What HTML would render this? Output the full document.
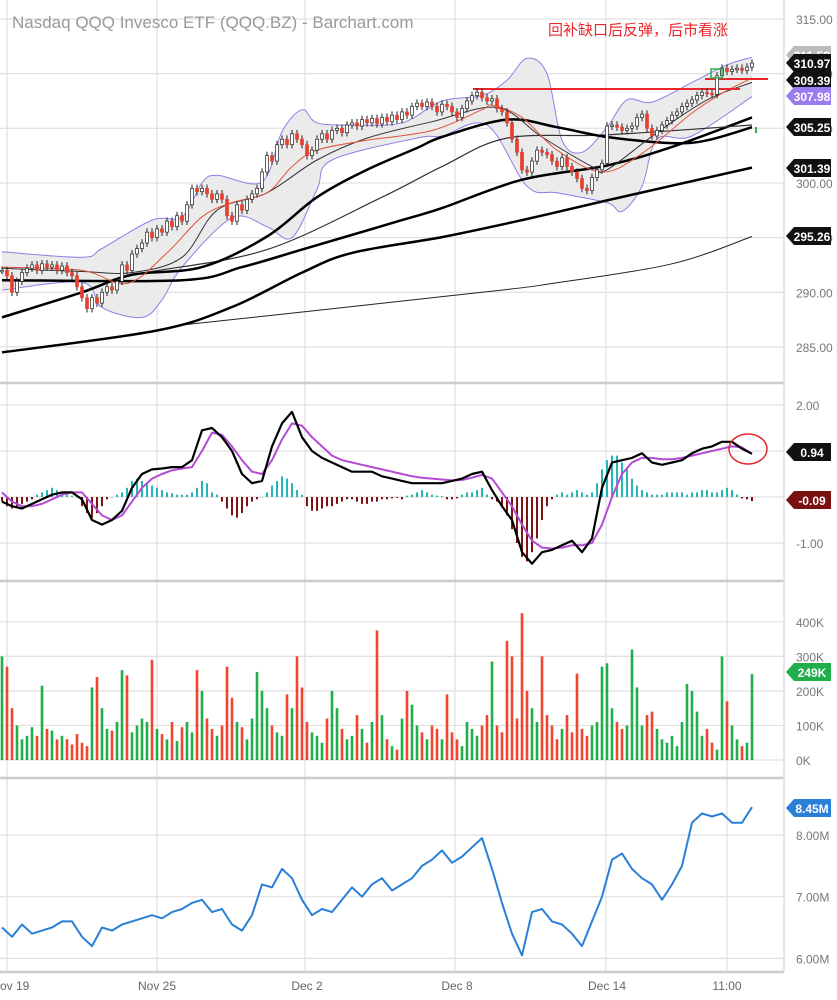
<!DOCTYPE html>
<html><head><meta charset="utf-8">
<style>
html,body{margin:0;padding:0;background:#fff;}
svg{display:block;font-family:"Liberation Sans","Noto Sans CJK SC",sans-serif;}
</style></head>
<body>
<svg id="chart" width="837" height="1000" viewBox="0 0 837 1000" xmlns="http://www.w3.org/2000/svg"></svg>
<script>
// ---------- DATA ----------
const closes = [292,291.5,290,291,291.8,292.2,292.5,292,292.6,292.3,
292.5,292,292.4,291.8,291.5,290.5,289.5,288.5,289.5,289,
290,290.5,290.2,291,292.5,292,293.5,294,294.5,295.5,
295,295.8,295.5,296.5,296,297,296.5,298,299.5,299.2,
299.5,299,298.5,299,298.5,297,296.5,298,297.5,298.5,
299,299.5,301,302.5,302,303.5,304,303.5,304.5,304,
303.5,302.5,303,304,304.5,304,304.8,305,304.6,305.3,
305.5,305.2,305.8,305.5,305.9,305.4,306,305.6,306.2,305.8,
306.5,306.2,307,307.3,307,307.4,307,306.5,307.2,307,
306.5,306,306.8,307.5,308,308.3,307.8,307.5,307.7,306.8,
306.5,305.5,304,302.8,301.2,301,302,303,302.8,302.6,
302,301.5,302.3,301.5,301,300.4,299.5,299.3,300.5,301.2,
301.8,305.2,305.3,305.1,304.8,305,305.2,306,306.3,305,
304.3,304.8,305.3,305.7,306.2,306.5,307,307.3,307.6,308,
308.3,308.2,308.1,309.8,310.5,310.2,310.4,310.5,310.3,310.6,
310.97];
const volumes = [300,270,150,100,60,70,95,70,215,90,
85,60,70,60,45,75,50,40,210,240,
150,90,85,110,260,245,80,100,120,110,
290,90,75,60,110,55,95,110,80,260,
200,120,90,70,100,270,180,110,95,60,
120,255,200,150,100,80,70,190,150,300,
210,110,80,70,50,120,200,150,90,60,
70,130,90,50,110,375,130,60,40,30,
120,200,160,100,80,60,100,90,60,190,
80,60,40,110,90,70,100,130,285,100,
80,345,300,120,425,200,150,110,300,130,
100,60,90,130,80,250,90,70,100,110,
270,280,150,110,90,100,320,210,100,130,
140,90,60,50,70,40,110,220,200,140,
70,90,50,30,300,170,100,60,40,50,
249];
const histValues = [-0.1,-0.2,-0.25,-0.2,-0.15,-0.1,-0.05,
0.05,0.1,0.15,0.2,0.15,0.1,0.05,0.03,0.0,
-0.2,-0.35,-0.45,-0.35,-0.2,-0.05,0.0,
0.05,0.1,0.2,0.35,0.4,0.35,0.3,0.25,0.2,
0.15,0.1,0.08,0.05,0.05,0.05,0.1,
0.2,0.35,0.3,0.1,0.05,
-0.1,-0.25,-0.4,-0.45,-0.35,-0.2,-0.1,-0.05,0.0,
0.1,0.25,0.35,0.45,0.4,0.3,0.15,0.05,
-0.2,-0.3,-0.3,-0.25,-0.2,-0.2,-0.15,-0.1,-0.05,-0.05,-0.1,-0.15,-0.15,-0.1,-0.1,-0.05,-0.05,-0.03,-0.02,-0.05,
0.03,0.05,0.1,0.15,0.1,0.05,0.03,0.02,
-0.05,-0.05,-0.03,0.05,0.1,0.1,0.15,0.2,0.05,-0.05,-0.1,
-0.2,-0.4,-0.7,-1.0,-1.3,-1.4,-1.2,-0.9,-0.5,-0.2,-0.05,
0.05,0.1,0.05,0.1,0.15,0.1,0.05,0.1,
0.3,0.6,0.8,0.9,0.9,0.75,0.6,0.4,0.25,0.15,0.1,0.05,
0.05,0.05,0.1,0.1,0.1,0.1,0.05,0.1,0.1,0.15,
0.15,0.1,0.1,0.15,0.2,0.15,0.05,-0.03,-0.05,-0.09];
const macdValues = [-0.1,-0.2,-0.25,-0.15,-0.05,0.05,0.1,0.1,-0.05,-0.5,
-0.6,-0.5,-0.3,0.2,0.5,0.6,0.62,0.65,0.65,0.8,
1.45,1.5,1.3,1.0,0.5,0.3,0.35,1.1,1.6,1.85,
1.3,1.0,0.85,0.75,0.65,0.55,0.55,0.55,0.45,0.4,
0.35,0.3,0.3,0.3,0.3,0.35,0.4,0.5,0.55,0.15,
-0.2,-0.5,-1.2,-1.45,-1.2,-1.15,-1.05,-0.95,-1.2,-0.9,
0.2,0.75,0.8,0.85,0.95,0.75,0.7,0.75,0.8,0.95,
1.05,1.1,1.2,1.2,1.05,0.94];
const signalValues = [0.1,-0.1,-0.2,-0.2,-0.15,-0.05,0.05,0.1,0.1,-0.15,
-0.4,-0.5,-0.4,-0.1,0.2,0.4,0.5,0.58,0.62,0.65,
1.0,1.4,1.35,1.1,0.8,0.55,0.5,0.8,1.25,1.6,
1.55,1.3,1.1,0.9,0.8,0.75,0.7,0.65,0.6,0.55,
0.5,0.45,0.42,0.4,0.38,0.36,0.37,0.42,0.48,0.4,
0.1,-0.2,-0.6,-0.95,-1.1,-1.12,-1.1,-1.05,-1.05,-1.0,
-0.6,0.0,0.5,0.75,0.85,0.85,0.82,0.82,0.85,0.9,
0.95,1.0,1.05,1.1,1.08,0.94];
const obvValues = [6.5,6.35,6.55,6.4,6.45,6.5,6.6,6.6,6.35,6.2,
6.5,6.45,6.55,6.6,6.65,6.7,6.65,6.75,6.8,6.9,
6.95,6.75,6.8,6.55,6.45,6.7,7.2,7.15,7.45,7.3,
6.95,6.7,6.8,6.75,6.95,7.15,7.0,7.2,7.3,7.1,
7.2,7.3,7.5,7.6,7.75,7.55,7.65,7.8,7.95,7.45,
6.9,6.4,6.05,6.75,6.8,6.6,6.55,6.4,6.2,6.6,
7.0,7.6,7.7,7.45,7.3,7.2,6.95,7.2,7.5,8.2,
8.35,8.3,8.35,8.2,8.2,8.45];
const bbUpper = [[0,293.7],[16,293.2],[20,294.0],[30,296.6],[36,296.9],[40,300],[43,300.7],[52,300.1],[56,304.7],[60,306.7],[63,305.5],[70,305.3],[80,305.5],[88,307.5],[96,308],[101,309.4],[105,311.4],[109,310],[112,303.9],[116,302.8],[121,305.1],[125,307.6],[130,307.4],[138,309.2],[145,310.8],[150,311.5]];
const bbLower = [[0,290.2],[16,290.9],[20,288.6],[28,287.7],[32,289.3],[36,292.3],[46,296.8],[53,296.0],[58,295.0],[63,299.4],[66,302.1],[83,304.1],[88,304.3],[97,305.3],[105,299.7],[111,299.1],[121,298.2],[124,297.4],[128,299.7],[131,304.0],[138,304.3],[150,307.9]];
const sma20 = [[0,292.2],[16,291.9],[26,291.8],[36,293.2],[43,297.5],[53,299.1],[63,302.1],[73,304.1],[86,305.6],[99,306.9],[108,304.2],[118,301.5],[121,301.2],[131,304.6],[141,307.6],[150,309.2]];
const ema9 = [[0,292.3],[16,292.0],[25,290.8],[33,293.6],[40,296.9],[46,298.2],[53,299.1],[58,301.5],[63,303.0],[73,303.9],[86,304.8],[96,306.7],[98,307.1],[104,306.0],[111,303.0],[120,301.0],[128,302.7],[138,306.4],[144,308.2],[150,309.6]];
const ma50 = [[0,287.7],[16,290.0],[26,291.6],[40,292.3],[53,295.1],[63,298.7],[73,301.2],[83,303.2],[88,304.2],[101,305.8],[111,305.1],[121,304.2],[134,303.65],[141,303.9],[150,305.1]];
const ma100 = [[0,291.1],[36,291.1],[48,292.3],[60,293.9],[80,296.6],[88,297.7],[104,300.3],[121,301.6],[134,303.3],[150,306.0]];
const ma100b = [[24,291.4],[30,291.9],[53,293.9],[76,298.7],[88,301.5],[101,304.1],[121,304.4],[150,305.3]];
const ma200 = [[0,284.5],[31,286.5],[46,288.65],[60,291.8],[70,293.6],[88,295.05],[104,296.6],[121,298.4],[150,301.4]];
const ma200b = [[36,287.0],[96,290.0],[110,290.8],[134,292.6],[150,295.1]];
const priceTicks = [315,310,305,300,295,290,285];
const macdTicks = [2,1,0,-1];
const volTicks = [400,300,200,100,0];
const obvTicks = [8,7,6];
const dateLabels = ["ov 19","Nov 25","Dec 2","Dec 8","Dec 14","11:00"];
const dateBars = [1,31,61,91,121,145];

// ---------- SCALES ----------
const NS = "http://www.w3.org/2000/svg";
const svg = document.getElementById('chart');
const xOf = i => 2 + i*5;
const yP = p => 19 + (315 - p)*10.93;
const yM = v => 497 - v*46;
const yV = v => 760 - v*0.3455;
const yO = v => 835 - (v-8)*61.7;

function el(tag, attrs, parent){ const e=document.createElementNS(NS,tag); for(const k in attrs) e.setAttribute(k,attrs[k]); (parent||svg).appendChild(e); return e; }
function txt(s, attrs){ const t=el('text',attrs); t.textContent=s; return t; }
function smoothPath(P){
  let d='M'+P[0][0].toFixed(1)+','+P[0][1].toFixed(1);
  for(let i=0;i<P.length-1;i++){ const p0=P[i-1]||P[i], p1=P[i], p2=P[i+1], p3=P[i+2]||p2;
    const c1=[p1[0]+(p2[0]-p0[0])/6, p1[1]+(p2[1]-p0[1])/6], c2=[p2[0]-(p3[0]-p1[0])/6, p2[1]-(p3[1]-p1[1])/6];
    d+=' C'+c1[0].toFixed(1)+','+c1[1].toFixed(1)+' '+c2[0].toFixed(1)+','+c2[1].toFixed(1)+' '+p2[0].toFixed(1)+','+p2[1].toFixed(1); }
  return d; }

const vgrid = [7,157,305,455,606,727];
vgrid.forEach(x=>{ const l=el('line',{x1:x,y1:0,x2:x,y2:972,stroke:'#e0e0e0','stroke-width':1.2});

 });
priceTicks.forEach(p=>{ const l=el('line',{x1:0,y1:yP(p),x2:784,y2:yP(p),stroke:'#e0e0e0','stroke-width':1.2});
 
const t=txt(p.toFixed(2),{x:796,y:yP(p)+5,fill:'#777','font-size':12});
  });
macdTicks.forEach(v=>{ const l=el('line',{x1:0,y1:yM(v),x2:784,y2:yM(v),stroke:'#e0e0e0','stroke-width':1.2});
 
if(v!==1 && v!==0){ const t=txt(v.toFixed(2),{x:796,y:yM(v)+5,fill:'#777','font-size':12});
  }});
volTicks.forEach(v=>{ const l=el('line',{x1:0,y1:yV(v),x2:784,y2:yV(v),stroke:'#e0e0e0','stroke-width':1.2});
 
const t=txt(v+'K',{x:796,y:yV(v)+5,fill:'#777','font-size':12});
  });
obvTicks.forEach(v=>{ const l=el('line',{x1:0,y1:yO(v),x2:784,y2:yO(v),stroke:'#e0e0e0','stroke-width':1.2});
 
const t=txt(v.toFixed(2)+'M',{x:796,y:yO(v)+5,fill:'#777','font-size':12});
  });
[383,581,778,972].forEach(y=>{ const l=el('line',{x1:0,y1:y,x2:784,y2:y,stroke:'#ccc','stroke-width':2.5});
  });
const rb=el('line',{x1:784,y1:0,x2:784,y2:972,stroke:'#ddd','stroke-width':1.5});
 

dateLabels.forEach((s,i)=>{ const x=xOf(dateBars[i]); const t=txt(s,{x:i===0?0:x,y:990,fill:'#666','font-size':12,'text-anchor':i===0?'start':'middle'});
  });

function ptsArr(arr){ return arr.map(d=>[xOf(d[0]),yP(d[1])]); }
const upP=ptsArr(bbUpper), loP=ptsArr(bbLower).reverse();
const bandD=smoothPath(upP)+' L'+smoothPath(loP).slice(1)+' Z';
const band=el('path',{d:bandD,fill:'#ebebeb',stroke:'none'});
 
function overlay(arr,name,stroke,w){ const p=el('path',{d:smoothPath(ptsArr(arr)),fill:'none',stroke:stroke,'stroke-width':w,'stroke-linejoin':'round'});
  }
overlay(bbUpper,'bollinger-upper','#8d7fe6',1);
overlay(bbLower,'bollinger-lower','#8d7fe6',1);
overlay(ma200b,'ma-thin-long','#222',1);
overlay(ma200,'ma-200','#000',2.5);
overlay(ma100,'ma-100','#000',2.5);
overlay(ma100b,'ma-100-thin','#333',1.2);
overlay(ma50,'ma-50','#000',2.5);
overlay(sma20,'sma-20','#333',1);
overlay(ema9,'ema-9','#e0533a',1);

const r1=el('line',{x1:473,y1:89,x2:740,y2:89,stroke:'#e8262b','stroke-width':2});
 
const r2=el('line',{x1:705,y1:79,x2:768,y2:79,stroke:'#e8262b','stroke-width':2});
 

closes.forEach((c,i)=>{ const o=i?closes[i-1]:c; const up=c>=o; const x=xOf(i);
const hi=Math.max(o,c)+0.35, lo=Math.min(o,c)-0.35;
const w=el('line',{x1:x,y1:yP(hi),x2:x,y2:yP(lo),stroke:'#222','stroke-width':1});
 
const top=yP(Math.max(o,c)), h=Math.max(1.5,Math.abs(yP(o)-yP(c)));
const b=el('rect',{x:x-1.5,y:top,width:3,height:h,fill:up?'#fff':'#e8402f',stroke:up?'#222':'#e8402f','stroke-width':0.7});
  });
const gs=el('rect',{x:711,y:69,width:11,height:9,fill:'none',stroke:'#2bb04a','stroke-width':1.5});
 
const gt=el('line',{x1:756,y1:127,x2:756,y2:133,stroke:'#2bb04a','stroke-width':2});
 

histValues.forEach((v,i)=>{ const x=xOf(i); const y0=yM(0), y1=yM(v);
const r=el('rect',{x:x-1,y:Math.min(y0,y1),width:2,height:Math.max(0.5,Math.abs(y1-y0)),fill:v>=0?'#26b6b6':'#7d1414'});
  });
function series(arr,yf,name,stroke,w){ const p=el('polyline',{points:arr.map((v,i)=>xOf(i*2).toFixed(1)+','+yf(v).toFixed(1)).join(' '),fill:'none',stroke:stroke,'stroke-width':w,'stroke-linejoin':'round'});
  }
series(signalValues,yM,'macd-signal-line','#b44ad6',2);
series(macdValues,yM,'macd-line','#000',2.2);
const circ=el('ellipse',{cx:748,cy:449,rx:19,ry:15,fill:'none',stroke:'#e8262b','stroke-width':1.5});
 

volumes.forEach((v,i)=>{ const up=i===0?true:closes[i]>=closes[i-1]; const x=xOf(i);
const r=el('rect',{x:x-1.3,y:yV(v),width:2.6,height:yV(0)-yV(v),fill:up?'#1fae4b':'#f0452e'});
  });

series(obvValues,yO,'obv-line','#2a7fd6',2);

const tt=txt('Nasdaq QQQ Invesco ETF (QQQ.BZ) - Barchart.com',{x:12,y:28,fill:'#999','font-size':17});
 
const an=txt('回补缺口后反弹，后市看涨',{x:548,y:35,fill:'#e8262b','font-size':15});
 

function tag(label,y,fill,name){ const g=el('g',{});
 
el('polygon',{points:`786,${y} 794,${y-9} 831,${y-9} 831,${y+9} 794,${y+9}`,fill:fill},g);
const t=el('text',{x:812,y:y+5,fill:'#fff','font-size':12,'font-weight':'bold','text-anchor':'middle'},g); t.textContent=label; }
tag('311.5?',55,'#bbb','hidden-price-tag');
tag('310.97',63,'#111','last-price-tag');
tag('309.39',80,'#111','sma20-tag');
tag('307.98',96,'#9b7cf0','bollinger-tag');
tag('305.25',127,'#111','ma50-tag');
tag('301.39',168,'#111','ma100-tag');
tag('295.26',236,'#111','ma200-tag');
tag('0.94',452,'#111','macd-tag');
tag('-0.09',500,'#7a1010','histogram-tag');
tag('249K',672,'#1fae4b','volume-tag');
tag('8.45M',808,'#2a7fd6','obv-tag');
</script>
</body></html>
